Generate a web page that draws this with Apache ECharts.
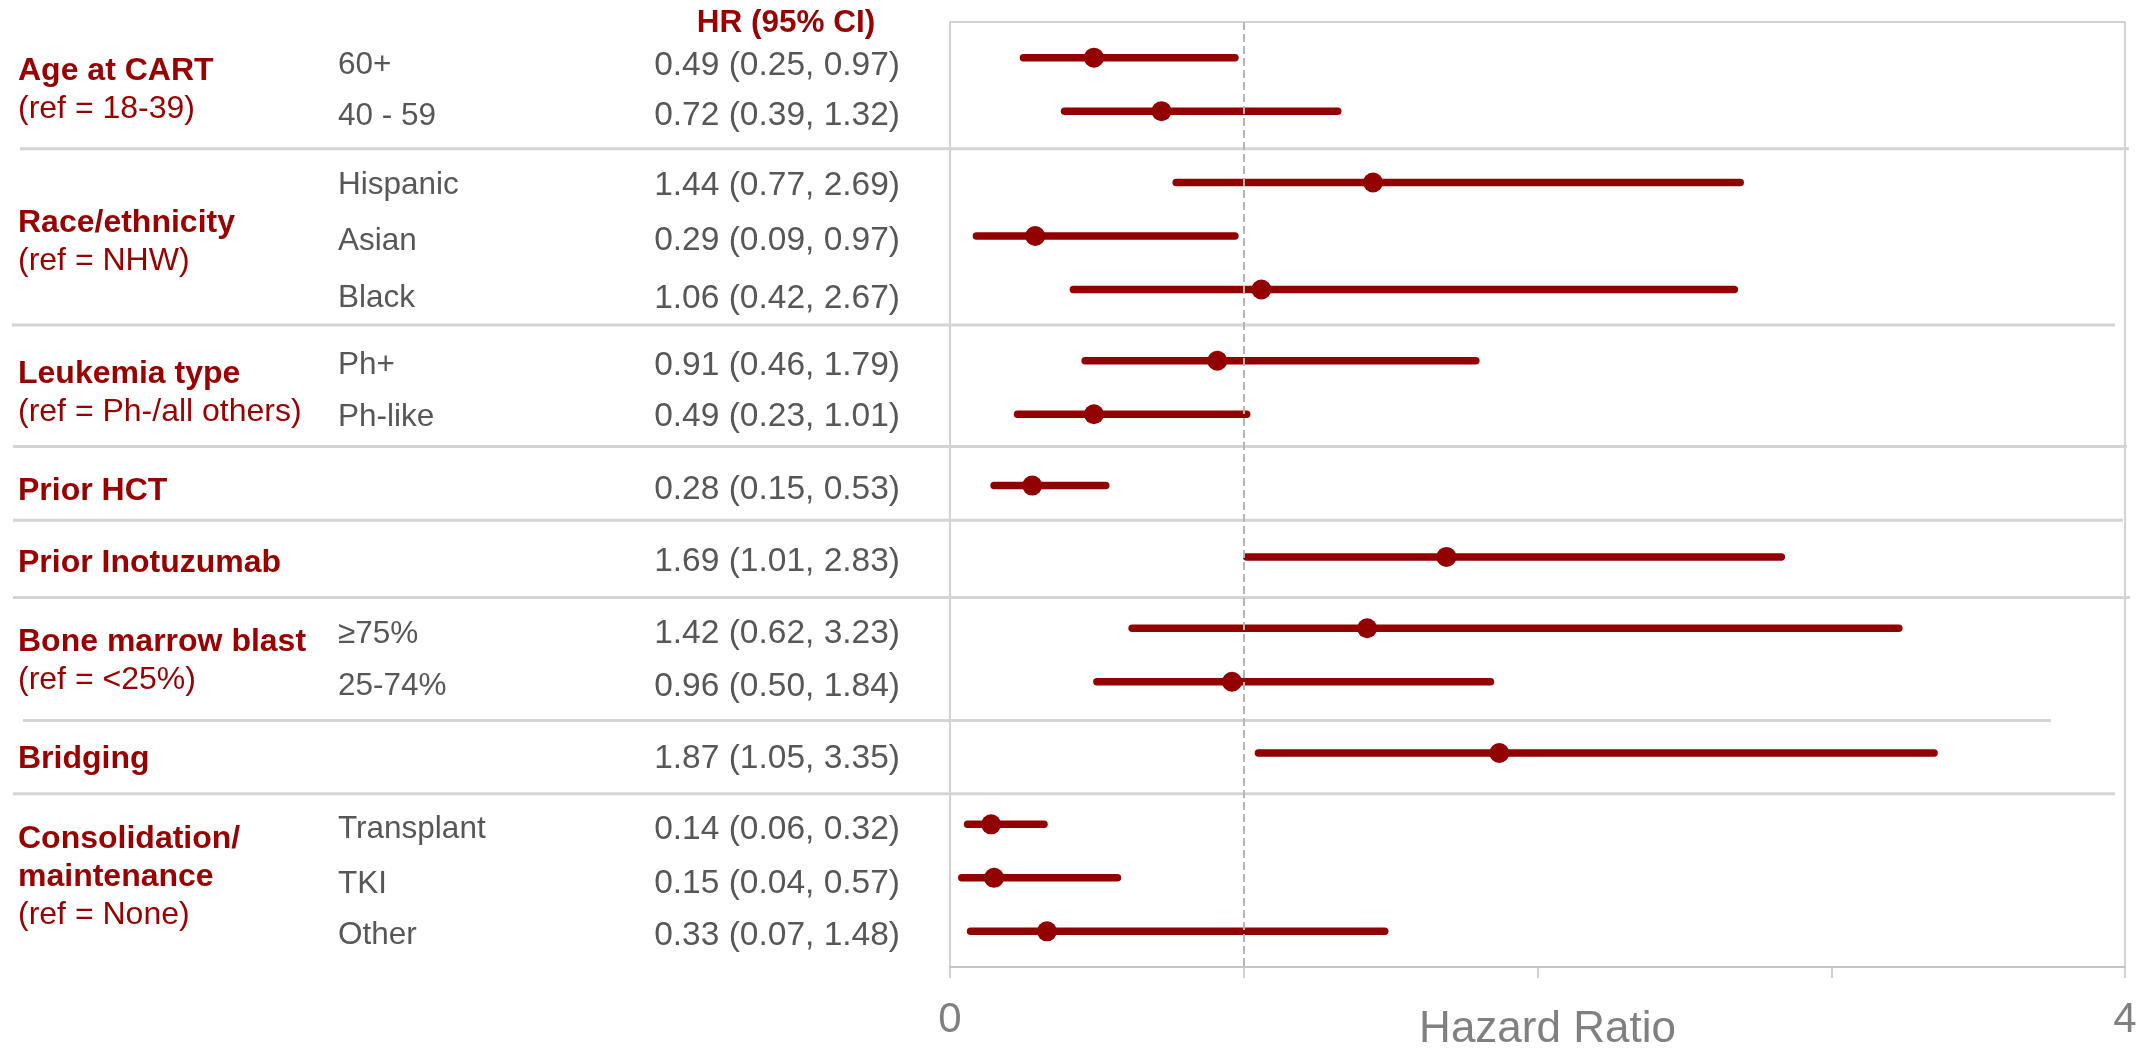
<!DOCTYPE html>
<html>
<head>
<meta charset="utf-8">
<script src="https://cdn.jsdelivr.net/npm/echarts@6/dist/echarts.min.js"></script>
<style>html,body{margin:0;padding:0;background:#fff}#c{width:2152px;height:1050px}</style>
</head>
<body>
<div id="c"></div>
<script>
// ---------- data ----------
const groupTitles = [['Age at CART'], ['Race/ethnicity'], ['Leukemia type'], ['Prior HCT'], ['Prior Inotuzumab'], ['Bone marrow blast'], ['Bridging'], ['Consolidation/', 'maintenance']];
const groupRefs = ['(ref = 18-39)', '(ref = NHW)', '(ref = Ph-/all others)', '', '', '(ref = <25%)', '', '(ref = None)'];
const rowGroup = [0, 0, 1, 1, 1, 2, 2, 3, 4, 5, 5, 6, 7, 7, 7];
const rowLabels = ['60+', '40 - 59', 'Hispanic', 'Asian', 'Black', 'Ph+', 'Ph-like', '', '', '\u226575%', '25-74%', '', 'Transplant', 'TKI', 'Other'];
const hrValues = [0.49, 0.72, 1.44, 0.29, 1.06, 0.91, 0.49, 0.28, 1.69, 1.42, 0.96, 1.87, 0.14, 0.15, 0.33];
const ciLow = [0.25, 0.39, 0.77, 0.09, 0.42, 0.46, 0.23, 0.15, 1.01, 0.62, 0.50, 1.05, 0.06, 0.04, 0.07];
const ciHigh = [0.97, 1.32, 2.69, 0.97, 2.67, 1.79, 1.01, 0.53, 2.83, 3.23, 1.84, 3.35, 0.32, 0.57, 1.48];
const xTickLabelValues = [0, 4];
const headerText = 'HR (95% CI)';
const axisTitle = 'Hazard Ratio';

// ---------- layout ----------
const FONT = '"Liberation Sans", Arial, Helvetica, sans-serif';
const RED_TEXT = '#990000';
const RED_MARK = '#920000';
const GRAY_TEXT = '#575757';
// row position in y units: 3 units between rows, one extra unit between groups
const rowPos = rowGroup.map((g, i) => 3 * i + g);
const groupCenters = groupTitles.map((_, g) => {
  const idx = rowGroup.map((gg, i) => gg === g ? i : -1).filter(i => i >= 0);
  return (rowPos[idx[0]] + rowPos[idx[idx.length - 1]]) / 2;
});
const dividers = [];
for (let g = 0; g < groupTitles.length - 1; g++) {
  const last = rowGroup.lastIndexOf(g);
  dividers.push((rowPos[last] + rowPos[last + 1]) / 2);
}
// small pixel adjustments copied from the hand-made original layout
const dividerNudge = [2, 0, -3.5, -1, 5, 3, 5];
const dividerLeft = [20, 12, 13, 13, 13, 23, 13];
const dividerRight = [2129, 2115, 2127, 2123, 2130, 2051, 2115];
const rowTextNudge = [8, 5, 3, 5, 9, 5, 3, 4, 5, 6, 5, 6, 5, 6, 4];
const LINE_H = 38;

const fmt = v => v.toFixed(2);

const chart = echarts.init(document.getElementById('c'));
chart.setOption({
  animation: false,
  backgroundColor: '#ffffff',
  grid: { left: 950, right: 27, top: 22, bottom: 83, show: true, borderColor: '#c4c4c4', borderWidth: 1.5, containLabel: false, outerBoundsMode: 'none' },
  xAxis: {
    type: 'value', min: 0, max: 4, interval: 1,
    axisLine: { show: true, onZero: false, lineStyle: { color: '#c4c4c4', width: 2 } },
    axisTick: { show: true, length: 11, lineStyle: { color: '#c4c4c4', width: 1.5 } },
    axisLabel: {
      fontSize: 42, color: '#808080', fontFamily: FONT, margin: 32,
      formatter: v => xTickLabelValues.indexOf(v) >= 0 ? String(v) : ''
    },
    splitLine: { show: false },
    name: axisTitle, nameLocation: 'middle', nameGap: 41, nameMoveOverlap: false,
    nameTextStyle: { fontSize: 44, color: '#808080', fontFamily: FONT, padding: [0, 0, 0, 20] }
  },
  yAxis: { type: 'value', min: -2, max: 51, inverse: true, show: false },
  graphic: [{
    type: 'text', x: 786, y: 23,
    style: { text: headerText, fill: RED_TEXT, fontSize: 31.5, fontWeight: 'bold', fontFamily: FONT, align: 'center', verticalAlign: 'middle' }
  }],
  series: [
    { // group dividers
      type: 'custom', clip: false, silent: true, z: 1,
      data: dividers.map((d, k) => [0, d, k]),
      encode: { x: 0, y: 1 },
      renderItem: (params, api) => {
        const k = api.value(2);
        const y = api.coord([0, api.value(1)])[1] + dividerNudge[k];
        return { type: 'line', shape: { x1: dividerLeft[k], y1: y, x2: dividerRight[k], y2: y }, style: { stroke: '#d4d4d4', lineWidth: 3 } };
      }
    },
    { // group labels
      type: 'custom', clip: false, silent: true, z: 3,
      data: groupCenters.map((c, g) => [0, c, g]),
      encode: { x: 0, y: 1 },
      renderItem: (params, api) => {
        const g = api.value(2);
        const yc = api.coord([0, api.value(1)])[1];
        const lines = groupTitles[g].map(t => ({ t, bold: true }));
        if (groupRefs[g]) lines.push({ t: groupRefs[g], bold: false });
        const n = lines.length;
        const center = yc + (n > 2 ? -1 : 6);
        return {
          type: 'group',
          children: lines.map((ln, k) => ({
            type: 'text', x: 18, y: center + (k - (n - 1) / 2) * LINE_H,
            style: { text: ln.t, fill: RED_TEXT, fontSize: 32, fontWeight: ln.bold ? 'bold' : 'normal', fontFamily: FONT, align: 'left', verticalAlign: 'middle' }
          }))
        };
      }
    },
    { // row labels + HR text
      type: 'custom', clip: false, silent: true, z: 3,
      data: rowPos.map((p, i) => [0, p, i]),
      encode: { x: 0, y: 1 },
      renderItem: (params, api) => {
        const i = api.value(2);
        const y = api.coord([0, api.value(1)])[1] + rowTextNudge[i];
        return {
          type: 'group',
          children: [
            { type: 'text', x: 338, y, style: { text: rowLabels[i], fill: GRAY_TEXT, fontSize: 31.5, fontFamily: FONT, align: 'left', verticalAlign: 'middle' } },
            { type: 'text', x: 900, y, style: { text: fmt(hrValues[i]) + ' (' + fmt(ciLow[i]) + ', ' + fmt(ciHigh[i]) + ')', fill: GRAY_TEXT, fontSize: 33.5, fontFamily: FONT, align: 'right', verticalAlign: 'middle' } }
          ]
        };
      }
    },
    { // CI bars
      type: 'custom', silent: true, z: 4,
      data: rowPos.map((p, i) => [ciLow[i], ciHigh[i], p]),
      encode: { x: [0, 1], y: 2 },
      renderItem: (params, api) => {
        const p1 = api.coord([api.value(0), api.value(2)]);
        const p2 = api.coord([api.value(1), api.value(2)]);
        return { type: 'line', shape: { x1: p1[0], y1: p1[1], x2: p2[0], y2: p2[1] }, style: { stroke: RED_MARK, lineWidth: 7.5, lineCap: 'round' } };
      }
    },
    { // point estimates
      type: 'scatter', silent: true, z: 5,
      symbol: 'circle', symbolSize: 20,
      itemStyle: { color: RED_MARK, opacity: 1 },
      data: rowPos.map((p, i) => [hrValues[i], p]),
      markLine: {
        silent: true, symbol: ['none', 'none'], label: { show: false },
        lineStyle: { type: [8, 4], color: '#b5b5b5', width: 2 },
        data: [{ xAxis: 1 }]
      }
    }
  ]
});
</script>
</body>
</html>
